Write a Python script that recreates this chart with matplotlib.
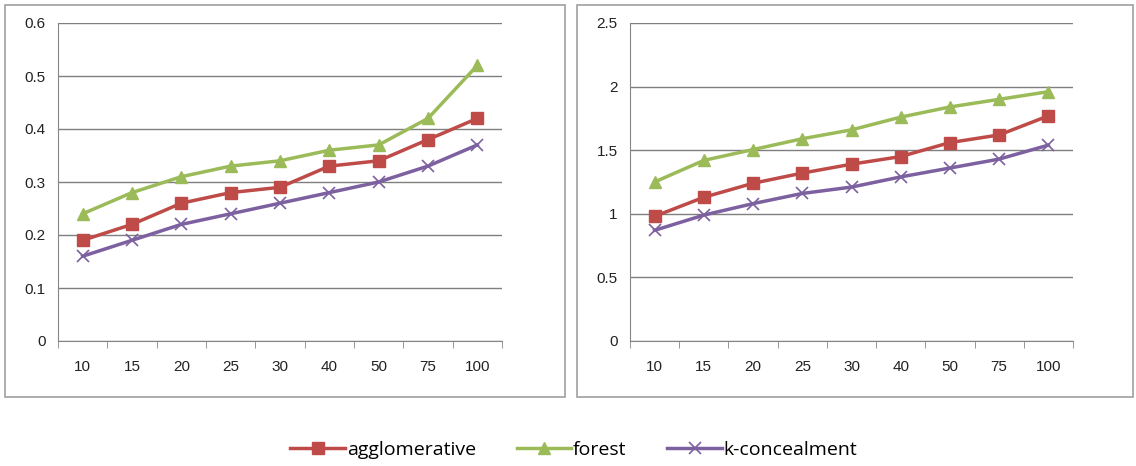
import matplotlib.pyplot as plt
from matplotlib.patches import Rectangle

plt.rcParams['font.family'] = ['Liberation Sans', 'DejaVu Sans']

# categories (k values)
cats = ['10', '15', '20', '25', '30', '40', '50', '75', '100']

# left panel
agg_left = [0.19, 0.22, 0.26, 0.28, 0.29, 0.33, 0.34, 0.38, 0.42]
forest_left = [0.24, 0.28, 0.31, 0.33, 0.34, 0.36, 0.37, 0.42, 0.52]
kc_left = [0.16, 0.19, 0.22, 0.24, 0.26, 0.28, 0.30, 0.33, 0.37]

# right panel
agg_right = [0.98, 1.13, 1.24, 1.32, 1.39, 1.45, 1.56, 1.62, 1.77]
forest_right = [1.25, 1.42, 1.505, 1.59, 1.66, 1.76, 1.84, 1.90, 1.96]
kc_right = [0.87, 0.99, 1.08, 1.16, 1.21, 1.29, 1.36, 1.43, 1.54]

red = '#BE4B48'
green = '#9BBB59'
purple = '#7D60A0'
gray = '#868686'

fig = plt.figure(figsize=(11.36, 4.66), dpi=100)
W, H = 1136, 466

# panel borders (pixel boxes)
for x0, x1 in [(5, 565), (577, 1133)]:
    fig.add_artist(Rectangle((x0 / W, 1 - 397 / H), (x1 - x0) / W, 392 / H,
                             transform=fig.transFigure, fill=False,
                             edgecolor='#a0a0a0', lw=1.2))


def panel(ax, agg, forest, kc, ymax, ystep):
    x = range(len(cats))
    ax.plot(x, agg, color=red, lw=2.5, marker='s', ms=9, mec=red, label='agglomerative')
    ax.plot(x, forest, color=green, lw=2.5, marker='^', ms=9, mec=green, label='forest')
    ax.plot(x, kc, color=purple, lw=2.5, marker='x', ms=9, mew=1.2, label='k-concealment')
    ax.set_xlim(-0.5, len(cats) - 0.5)
    ax.set_ylim(0, ymax)
    yt = [round(i * ystep, 2) for i in range(int(round(ymax / ystep)) + 1)]
    ax.set_yticks(yt)
    ax.set_yticklabels([('%g' % v) for v in yt])
    ax.set_xticks(list(x))
    ax.set_xticklabels(cats)
    ax.set_xticks([i - 0.5 for i in range(len(cats) + 1)], minor=True)
    ax.tick_params(axis='x', which='major', length=0, pad=14, labelsize=11, colors='#222222')
    ax.tick_params(axis='x', which='minor', length=5, color=gray, direction='out')
    ax.tick_params(axis='y', length=0, pad=9, labelsize=11, colors='#222222')
    ax.grid(axis='y', color='#7f7f7f', lw=1)
    ax.set_axisbelow(True)
    for s in ['top', 'right']:
        ax.spines[s].set_visible(False)
    ax.spines['left'].set_color(gray)
    ax.spines['bottom'].set_color(gray)


ax1 = fig.add_axes([58 / W, 1 - 341 / H, 444 / W, 318 / H])
panel(ax1, agg_left, forest_left, kc_left, 0.6, 0.1)
ax2 = fig.add_axes([630 / W, 1 - 341 / H, 443 / W, 318 / H])
panel(ax2, agg_right, forest_right, kc_right, 2.5, 0.5)

handles, labels = ax1.get_legend_handles_labels()
fig.legend(handles, labels, loc='center', bbox_to_anchor=(574 / W, 1 - 450 / H),
           ncol=3, frameon=False, handlelength=2.8, columnspacing=2.1,
           handletextpad=0.1, prop={'family': 'Open Sans', 'size': 14})

fig.savefig('out.png', dpi=100)
